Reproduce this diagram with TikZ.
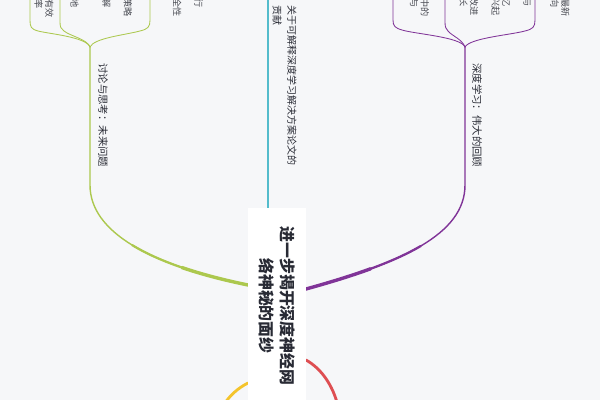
\documentclass[tikz,border=0pt]{standalone}
\usepackage{fontspec}
\setmainfont{Noto Sans CJK SC}
\definecolor{bgcol}{RGB}{246,247,249}
\definecolor{brgreen}{RGB}{172,200,78}
\definecolor{brpurple}{RGB}{128,52,152}
\definecolor{brcyan}{RGB}{84,188,204}
\definecolor{brred}{RGB}{222,78,82}
\definecolor{bryellow}{RGB}{244,196,44}
\definecolor{txt}{RGB}{40,42,52}

\tikzset{
  root/.style={rotate=-90, fill=white, minimum width=4.9cm, minimum height=1.45cm,
    align=center, text=txt, font=\fontsize{11.3}{15}\selectfont\bfseries},
  topic/.style={rotate=-90, inner sep=0pt, align=left, text=txt,
    font=\fontsize{7.4}{10.6}\selectfont},
  leaf/.style={rotate=-90, inner sep=0pt, align=left, anchor=south east, text=txt!85,
    font=\fontsize{6.5}{7.6}\selectfont},
  twig/.style={line width=0.6pt},
}

\begin{document}
\begin{tikzpicture}[x=0.025cm, y=-0.025cm, line cap=round]
\fill[bgcol] (0,0) rectangle (600,400);
\useasboundingbox (0,0) rectangle (600,400);
\clip (0,0) rectangle (600,400);

% main branches
\coordinate (gs) at (248,285);
\coordinate (gq) at (181.97,267.55);
\coordinate (gm) at (132.25,245.125);
\coordinate (gc) at (90,185);
\coordinate (gf) at (90,47);
\coordinate (ps) at (306,289);
\coordinate (pq) at (370.5,268.81);
\coordinate (pm) at (420.75,246);
\coordinate (pc) at (465,185);
\coordinate (pf) at (465,47);
\coordinate (cs) at (268,208);
\coordinate (cm) at (268,150);
\coordinate (ce) at (268,-5);
\coordinate (rs) at (306,360);
\coordinate (re) at (338,406);
\coordinate (ys) at (248,383);
\coordinate (ye) at (223,406);

\draw[brgreen, line width=1pt] (gs) .. controls (150,265) and (90,232) .. (gc) -- (gf);
\draw[brgreen, line width=1.6pt] (gs) .. controls (199,275) and (159.5,261.75) .. (gm);
\draw[brgreen, line width=2.4pt] (gs) .. controls (223.5,280) and (201.375,274.19) .. (gq);
\draw[brpurple, line width=1pt] (ps) .. controls (400,263) and (465,235) .. (pc) -- (pf);
\draw[brpurple, line width=1.6pt] (ps) .. controls (353,276) and (392.75,262.5) .. (pm);
\draw[brpurple, line width=2.4pt] (ps) .. controls (329.5,282.5) and (351.19,275.875) .. (pq);
\draw[brcyan, line width=1pt] (cs) -- (ce);
\draw[brcyan, line width=1.6pt] (cs) -- (cm);
\draw[brred, line width=2pt] (rs) .. controls (322,369) and (333,386) .. (re);
\draw[bryellow, line width=2pt] (ys) .. controls (238,388) and (229,396) .. (ye);

\node[root] (root) at (277,306) {进一步揭开深度神经网\\络神秘的面纱};

% topics
\node[topic, anchor=west] (gtopic) at (103,63) {讨论与思考：未来问题};
\node[topic, anchor=west] (ptopic) at (477,63) {深度学习：伟大的回顾};
\node[topic, anchor=north west, font=\fontsize{7.1}{10.6}\selectfont] (ctopic) at (297,5)
  {关于可解释深度学习解决方案论文的\\贡献};

% green sub-branches
\coordinate (g1) at (30,-5);
\coordinate (g2) at (60,-5);
\coordinate (g3) at (150,-5);
\draw[brgreen, twig] (gf) .. controls (86,37) and (50,34) .. (38,31)
  .. controls (31,29) and (30,27) .. (30,20) -- (g1);
\draw[brgreen, twig] (gf) .. controls (87,39) and (70,36) .. (64,31)
  .. controls (61,29) and (60,27) .. (60,22) -- (g2);
\draw[brgreen, twig] (gf) .. controls (94,38) and (125,35) .. (140,31)
  .. controls (148,29) and (150,27) .. (150,20) -- (g3);
\node[leaf] (g1t) at (34,18) {可解释性评估指标的有效\\性以及实际运行的效率};
\node[leaf] (g2t) at (70,17) {模型性能与可解释性的权衡策略\\如何在不损失精度的前提下\\网络内部表示的透明度与理解\\将解释结果有效传达\\给人类用户以增强信任\\推动可解释方法走向实际落地};
\node[leaf] (g3t) at (162,17) {面向安全关键领域的可信行\\为与模型的持续改进\\对抗样本下解释方法的安全性\\与鲁棒性之间的相互关系};

% purple sub-branches
\coordinate (p1) at (393,-5);
\coordinate (p2) at (445,-5);
\coordinate (p3) at (535,-5);
\draw[brpurple, twig] (pf) .. controls (461,37) and (415,34) .. (402,30)
  .. controls (395,28) and (393,26) .. (393,20) -- (p1);
\draw[brpurple, twig] (pf) .. controls (462,39) and (452,36) .. (448,31)
  .. controls (446,29) and (445,27) .. (445,22) -- (p2);
\draw[brpurple, twig] (pf) .. controls (470,38) and (510,35) .. (525,31)
  .. controls (533,29) and (535,27) .. (535,20) -- (p3);
\node[leaf] (p1t) at (399,17) {深度学习模型在各个领域中的\\成功应用及其面临的挑战与\\相关文献综述与调研};
\node[leaf] (p2t) at (459,16) {卷积神经网络的发展历程与\\经典的网络结构设计\\循环神经网络与长短时记忆\\注意力机制与新型架构的兴起\\大规模预训练模型的时代\\优化方法与正则化技术的改进\\训练数据与算力的持续增长};
\node[leaf] (p3t) at (550,17) {生成模型与表示学习的最新\\进展以及未来发展的方向};

\end{tikzpicture}
\end{document}
